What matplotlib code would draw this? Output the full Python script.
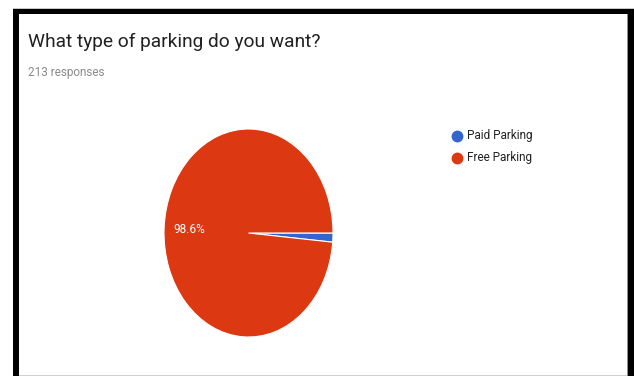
# -*- coding: utf-8 -*-

"""
Parking survey pie chart
"""
import matplotlib
matplotlib.use("Agg")
import matplotlib.pyplot as plt
from matplotlib.patches import Rectangle

# survey answers
labels = ["Paid Parking", "Free Parking"]
counts = [3, 210]
colors = ["#3366cc", "#dc3912"]
title = "What type of parking do you want?"
subtitle = "213 responses"

W, H = 634, 376


def fx(px):
    return px / W


def fy(py):
    # pixel rows are counted from the top
    return 1 - py / H


def draw_frame(fig):
    # black screenshot frame (left, top, right) and thin grey edges
    boxes = [
        (13, 9, 6, H - 9, "black"),
        (13, 9, W - 13, 5, "black"),
        (628, 9, W - 628, H - 9, "black"),
        (13, 8, W - 13, 1, "#c8c8c8"),
        (19, 375, 608, 1, "#d0d0d0"),
        (627, 14, 1, H - 14, "#909090"),
    ]
    for x, y, w, h, c in boxes:
        fig.add_artist(Rectangle((fx(x), fy(y + h)), w / W, h / H,
                                 transform=fig.transFigure, color=c, lw=0, zorder=5))


def autopct_big(pct):
    # google forms hides labels of tiny slices
    return "{:.1f}%".format(pct) if pct > 5 else ""


def main():
    plt.rcParams['font.family'] = ['Roboto', 'DejaVu Sans']
    fig = plt.figure(figsize=(W / 100, H / 100), dpi=100)
    fig.patch.set_facecolor("white")

    # the pie is squeezed sideways, so the axes box is taller than wide
    ax = fig.add_axes([fx(164), fy(337), 169 / W, 208 / H])
    wedges, texts, autotexts = ax.pie(
        counts, colors=colors, startangle=0, counterclock=False,
        autopct=autopct_big, pctdistance=0.7,
        wedgeprops=dict(edgecolor="white", linewidth=0.8),
        textprops=dict(color="white", fontsize=8.5))
    ax.set_aspect("auto")
    ax.set_xlim(-1, 1)
    ax.set_ylim(-1, 1)

    fig.text(fx(28), fy(47), title, fontsize=13.8, color="#212121", va="baseline")
    fig.text(fx(28), fy(76), subtitle, fontsize=8.5, color="#8a8a8a", va="baseline")

    # legend with round markers
    for i, (lab, col) in enumerate(zip(labels, colors)):
        y = 136 + 22 * i
        fig.add_artist(plt.Line2D([fx(457)], [fy(y)], marker="o", markersize=7.5,
                                  color=col, transform=fig.transFigure))
        fig.text(fx(467), fy(y), lab, fontsize=8.5, color="#222222", va="center")

    draw_frame(fig)
    fig.savefig("out.png", dpi=100, facecolor="white")


if __name__ == "__main__":
    main()
